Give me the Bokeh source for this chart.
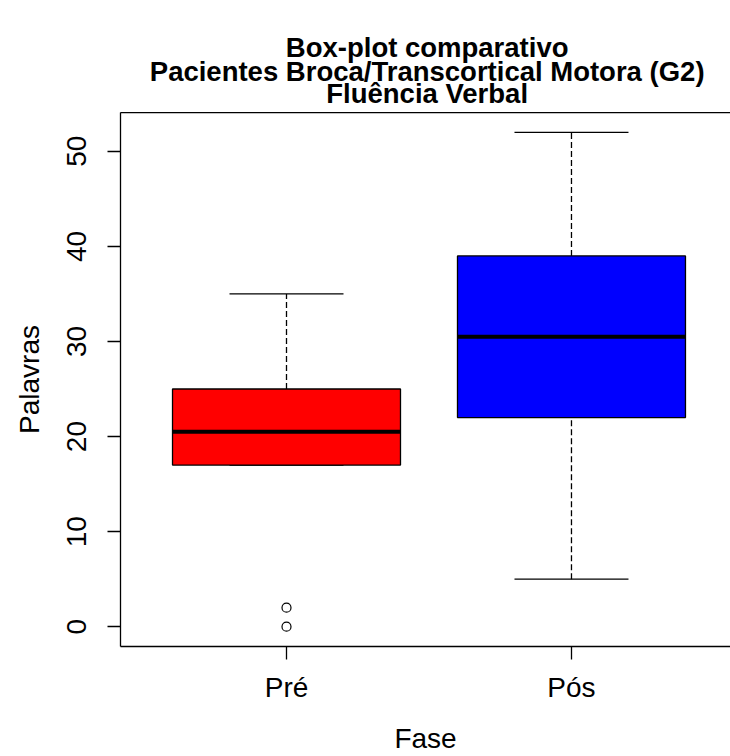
from bokeh.plotting import figure
from bokeh.models import Range1d, FixedTicker, LinearAxis, Label, ColumnDataSource
from bokeh.layouts import column
from bokeh.embed import file_html
from bokeh.resources import INLINE

# ---- data ----
fases = ["Pré", "Pós"]
posicoes = [1, 2]
whisker_low = [17, 5]
q1 = [17, 22]
mediana = [20.5, 30.5]
q3 = [25, 39]
whisker_high = [35, 52]
cores = ["#FF0000", "#0000FF"]
outlier_pos = [1, 1]
outlier_val = [0, 2]
y_ticks = [0, 10, 20, 30, 40, 50]
titulo = ["Box-plot comparativo",
          "Pacientes Broca/Transcortical Motora (G2)",
          "Fluência Verbal"]

FONT = "Liberation Sans"
BOX_HALF = 0.4
CAP_HALF = 0.2
TITLE_H = 112

# ---- title strip ----
t = figure(width=730, height=TITLE_H, output_backend="svg", toolbar_location=None,
           x_range=Range1d(0, 730), y_range=Range1d(TITLE_H, 0),
           min_border=0, min_border_left=0, min_border_right=0,
           min_border_top=0, min_border_bottom=0,
           outline_line_color=None, x_axis_type=None,
           y_axis_type=None, background_fill_color="white",
           border_fill_color="white")
t.grid.visible = False
for txt, yy in zip(titulo, [47, 70.5, 93]):
    t.add_layout(Label(x=367, y=yy, text=txt, text_align="center",
                       text_baseline="middle", text_font=FONT,
                       text_font_size="27.5px", text_font_style="bold",
                       text_color="black"))

# ---- box plot ----
p = figure(width=730, height=756 - TITLE_H, output_backend="svg", toolbar_location=None,
           x_range=Range1d(0.4175, 2.558), y_range=Range1d(-2.08, 54.08),
           min_border_left=120, min_border_right=0, min_border_top=0,
           min_border_bottom=109, background_fill_color="white",
           border_fill_color="white", outline_line_color=None)
p.grid.visible = False

src = ColumnDataSource(dict(
    x=posicoes, lo=whisker_low, q1=q1, med=mediana, q3=q3, hi=whisker_high,
    color=cores,
    left=[v - BOX_HALF for v in posicoes], right=[v + BOX_HALF for v in posicoes],
    cl=[v - CAP_HALF for v in posicoes], cr=[v + CAP_HALF for v in posicoes],
))

LW = 1.3
p.segment(x0="x", y0="q3", x1="x", y1="hi", source=src, line_color="black",
          line_width=LW, line_dash="6 3")
p.segment(x0="x", y0="lo", x1="x", y1="q1", source=src, line_color="black",
          line_width=LW, line_dash="6 3")
p.segment(x0="cl", y0="hi", x1="cr", y1="hi", source=src, line_color="black", line_width=LW)
p.segment(x0="cl", y0="lo", x1="cr", y1="lo", source=src, line_color="black", line_width=LW)
p.quad(left="left", right="right", bottom="q1", top="q3", source=src,
       fill_color="color", line_color="black", line_width=LW)
p.segment(x0="left", y0="med", x1="right", y1="med", source=src,
          line_color="black", line_width=4)
p.scatter(x=outlier_pos, y=outlier_val, marker="circle", size=9,
          fill_color=None, line_color="black", line_width=1.2)

xa = p.xaxis[0]
xa.ticker = FixedTicker(ticks=posicoes)
xa.major_label_overrides = {pos: f for pos, f in zip(posicoes, fases)}
xa.axis_label = "Fase"
ya = p.yaxis[0]
ya.ticker = FixedTicker(ticks=y_ticks)
ya.axis_label = "Palavras"
ya.major_label_orientation = "vertical"

for ax in (xa, ya):
    ax.minor_tick_line_color = None
    ax.major_tick_out = 13
    ax.major_tick_in = 0
    ax.major_tick_line_color = "black"
    ax.major_tick_line_width = LW
    ax.axis_line_color = "black"
    ax.axis_line_width = LW
    ax.major_label_text_font = FONT
    ax.major_label_text_font_size = "28px"
    ax.major_label_text_color = "black"
    ax.axis_label_text_font = FONT
    ax.axis_label_text_font_size = "28px"
    ax.axis_label_text_font_style = "normal"
    ax.axis_label_text_color = "black"
xa.major_label_standoff = 12
ya.major_label_standoff = 21
xa.axis_label_standoff = 17
ya.axis_label_standoff = 20

top_axis = LinearAxis(ticker=FixedTicker(ticks=[]), axis_line_color="black",
                      axis_line_width=LW, major_tick_out=0, major_tick_in=0,
                      major_label_standoff=0,
                      major_tick_line_color=None, minor_tick_line_color=None,
                      major_label_text_font_size="0px")
p.add_layout(top_axis, "above")

open("out.html", "w").write(file_html(column(t, p, spacing=0), INLINE))
